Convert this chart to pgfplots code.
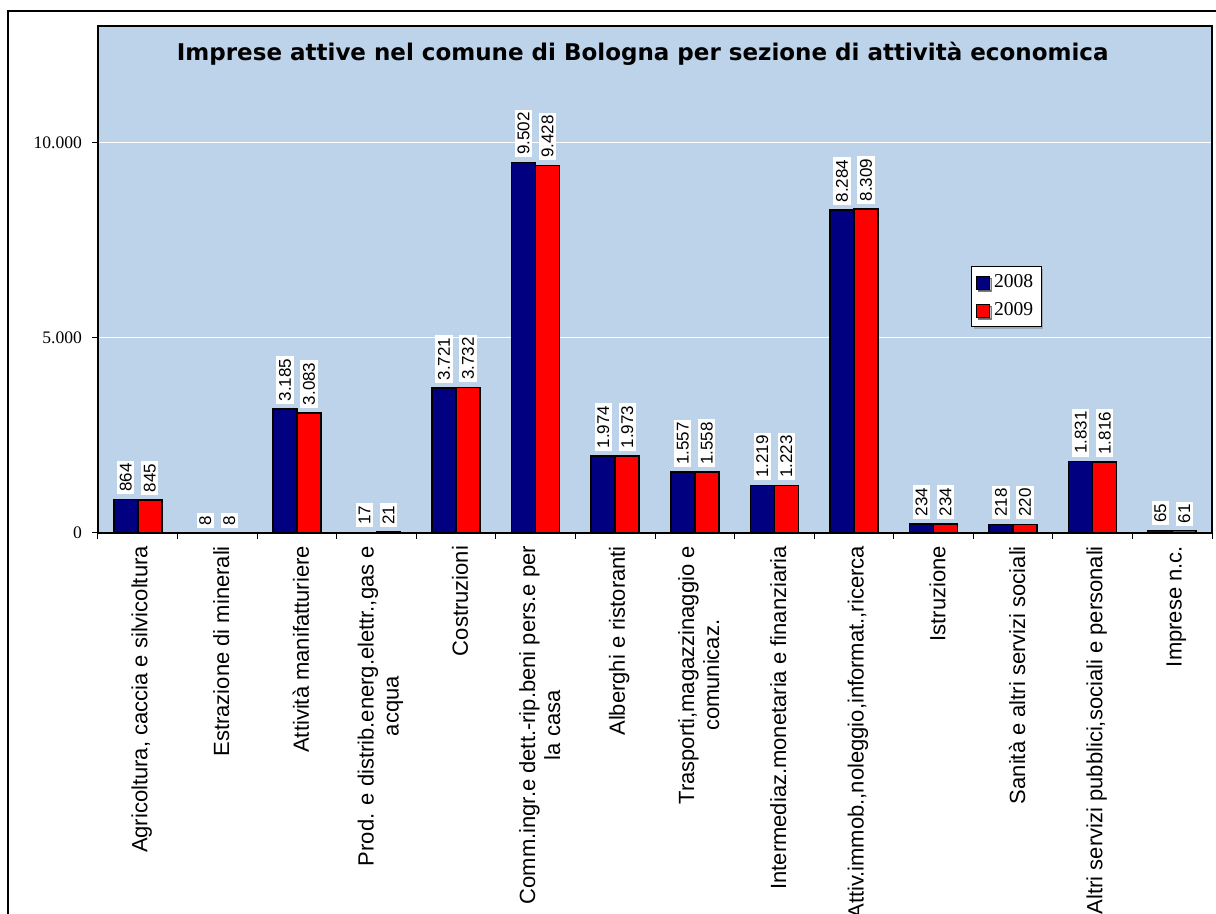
\documentclass[border=0pt]{standalone}
\usepackage{pgfplots}
\pgfplotsset{compat=1.18}
\usepackage{fontspec}
\setmainfont{Liberation Sans}
\newfontfamily\tnr{Liberation Serif}
\newfontfamily\verd{DejaVu Sans}
\usetikzlibrary{shadows}
\definecolor{bgblue}{HTML}{BCD3EA}
\definecolor{navy}{HTML}{000080}
\definecolor{xlred}{HTML}{FF0000}
\pgfplotsset{/pgf/number format/.cd, 1000 sep={.}, assume math mode=true}

\begin{document}
\begin{tikzpicture}
\useasboundingbox (-49pt,-190.5pt) rectangle (559pt,266.5pt);
\draw[line width=0.6pt] (-45pt,-200pt) -- (-45pt,261pt) -- (570pt,261pt);
\begin{axis}[
  at={(0,0)}, anchor=south west,
  scale only axis, width=557pt, height=253.5pt,
  xmin=0, xmax=14, ymin=0, ymax=13000,
  axis background/.style={fill=bgblue},
  axis line style={line width=0.6pt},
  ybar=0pt, bar width=12pt,
  xtick={0,...,14}, x tick label as interval,
  xtick pos=bottom, ytick pos=left,
  xticklabels={{Agricoltura, caccia e silvicoltura},
    {Estrazione di minerali},
    {Attività manifatturiere},
    {Prod. e distrib.energ.elettr.,gas e\\acqua},
    {Costruzioni},
    {Comm.ingr.e dett.-rip.beni pers.e per\\la casa},
    {Alberghi e ristoranti},
    {Trasporti,magazzinaggio e\\comunicaz.},
    {Intermediaz.monetaria e finanziaria},
    {Attiv.immob.,noleggio,informat.,ricerca},
    {Istruzione},
    {Sanità e altri servizi sociali},
    {Altri servizi pubblici,sociali e personali},
    {Imprese n.c.}},
  xticklabel style={rotate=90, anchor=east, align=center,
    font=\fontsize{11}{12.5}\selectfont, yshift=-2pt},
  ytick={0,5000,10000}, scaled y ticks=false,
  yticklabel style={font=\tnr\fontsize{8.8}{10}\selectfont, xshift=-1.5pt},
  tick align=outside, major tick length=3pt,
  tick style={black, line width=0.5pt},
  ymajorgrids, y grid style={white, line width=0.5pt},
  title={Imprese attive nel comune di Bologna per sezione di attività economica},
  title style={at={(0.489,0.921)}, anchor=center, yshift=0pt,
    font=\verd\bfseries\fontsize{11.5}{13}\selectfont},
  legend style={at={(0.784,0.526)}, anchor=north west, draw=black,
    fill=white, line width=0.5pt, font=\tnr\fontsize{9.8}{11}\selectfont,
    inner sep=2pt, row sep=2pt,
    drop shadow={shadow xshift=1pt, shadow yshift=-1pt, fill=gray}},
  legend image code/.code={\draw[#1, draw=black, line width=0.6pt]
    (0pt,-3.2pt) rectangle (6.5pt,3.2pt);},
  nodes near coords,
  every node near coord/.append style={rotate=90, anchor=west,
    fill=white, inner sep=1.3pt, outer sep=2.5pt,
    font=\fontsize{8.5}{9}\selectfont},
]
\addplot[fill=navy, draw=black, line width=0.8pt] coordinates {
  (0.5,864) (1.5,8) (2.5,3185) (3.5,17) (4.5,3721) (5.5,9502) (6.5,1974)
  (7.5,1557) (8.5,1219) (9.5,8284) (10.5,234) (11.5,218) (12.5,1831) (13.5,65)};
\addlegendentry{2008}
\addplot[fill=xlred, draw=black, line width=0.8pt] coordinates {
  (0.5,845) (1.5,8) (2.5,3083) (3.5,21) (4.5,3732) (5.5,9428) (6.5,1973)
  (7.5,1558) (8.5,1223) (9.5,8309) (10.5,234) (11.5,220) (12.5,1816) (13.5,61)};
\addlegendentry{2009}
\end{axis}
\end{tikzpicture}
\end{document}
